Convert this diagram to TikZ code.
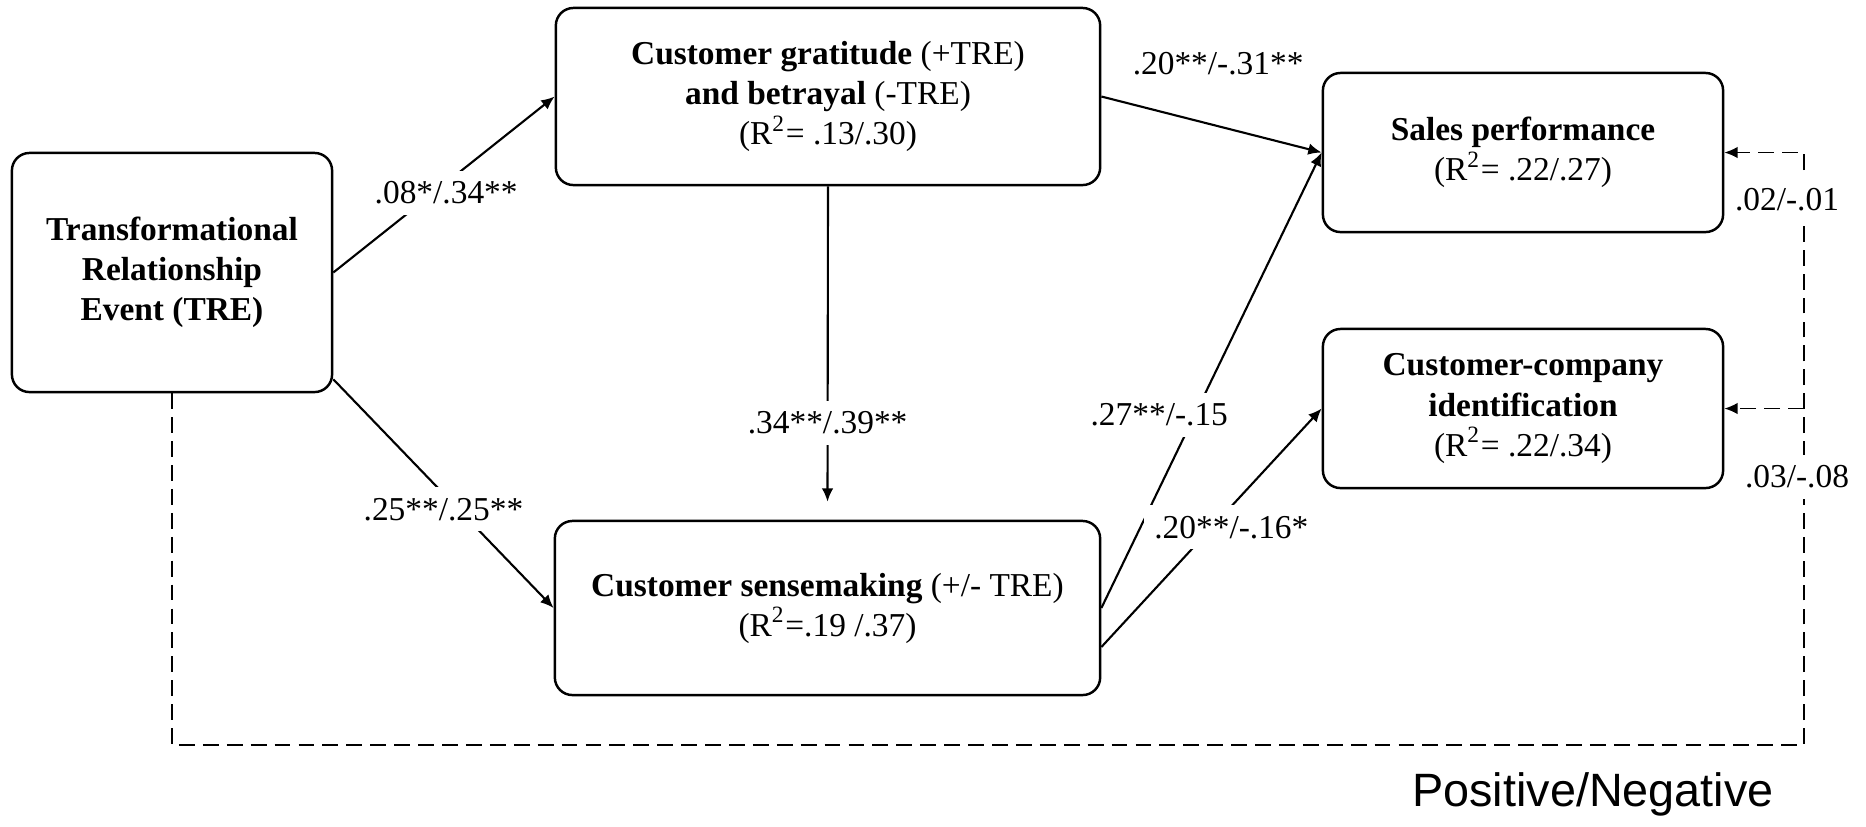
\documentclass[tikz,border=0pt]{standalone}
\usepackage{fontspec}
\setmainfont{Liberation Serif}
\newfontfamily\legendfont{Liberation Sans}
\usetikzlibrary{arrows.meta,positioning,calc}

\begin{document}
\begin{tikzpicture}[x=0.01cm, y=-0.01cm, >=Latex,
    every node/.style={font=\fontsize{9.5pt}{11.4pt}\selectfont},
    box/.style={draw, line width=0.7pt, rounded corners=5pt, align=center, inner sep=2pt},
    lbl/.style={fill=white, inner sep=3pt},
    arr/.style={-{Latex[length=3.8pt,width=3.3pt]}, line width=0.6pt},
    darr/.style={arr, line width=0.45pt, dash pattern=on 4.5pt off 2.3pt}]
    \useasboundingbox (0,0) rectangle (1866,826);
    \node[box, minimum width=3.2cm, minimum height=2.39cm] (tre) at (172,272.5)
        {\textbf{Transformational}\\\textbf{Relationship}\\\textbf{Event (TRE)}};
    \node[box, minimum width=5.44cm, minimum height=1.77cm] (grat) at (828,96.5)
        {\textbf{Customer gratitude} (+TRE)\\\textbf{and betrayal} (-TRE)\\(R\textsuperscript{2}= .13/.30)};
    \node[box, minimum width=5.45cm, minimum height=1.74cm] (sense) at (827.5,608)
        {\textbf{Customer sensemaking} (+/- TRE)\\(R\textsuperscript{2}=.19 /.37)};
    \node[box, minimum width=4cm, minimum height=1.59cm] (sales) at (1523,152.5)
        {\textbf{Sales performance}\\(R\textsuperscript{2}= .22/.27)};
    \node[box, minimum width=4cm, minimum height=1.59cm] (cci) at (1523,408.5)
        {\textbf{Customer-company}\\\textbf{identification}\\(R\textsuperscript{2}= .22/.34)};
    \coordinate (trelow) at ($(tre.south east)+(0,-14)$);
    \coordinate (senselow) at ($(sense.east)+(0,39)$);
    \coordinate (senseabove) at ($(sense.north)+(0,-18)$);
    \coordinate (dcorner) at (1804,745);
    \coordinate (dtop) at (1804,152.5);
    \draw[arr] (tre.east) -- (grat.west) node[lbl, pos=0.51, yshift=-0.1cm] (l1) {.08*/.34**};
    \draw[arr] (trelow) -- (sense.west) node[lbl, pos=0.5, yshift=-0.155cm] (l2) {.25**/.25**};
    \draw[arr] (grat.south) -- (senseabove) node[lbl, pos=0.75] (l3) {.34**/.39**};
    \draw[arr] (grat.east) -- (sales.west) node[pos=0.53, yshift=0.63cm] (l4) {.20**/-.31**};
    \draw[arr] (sense.east) -- (sales.west) node[lbl, pos=0.424, xshift=-0.355cm] (l5) {.27**/-.15};
    \draw[arr] (senselow) -- (cci.west) node[lbl, pos=0.59, yshift=-0.21cm] (l6) {.20**/-.16*};
    \draw[darr] (tre.south) |- (dcorner) -- (dtop) -- (sales.east);
    \draw[darr] (cci.east -| dtop) -- (cci.east);
    \node[lbl] (l7) at (1787,200) {.02/-.01};
    \node[lbl] (l8) at (1797,477) {.03/-.08};
    \node[font=\legendfont\fontsize{13.3pt}{16pt}\selectfont] (legend) at (1593,794) {Positive/Negative};
\end{tikzpicture}
\end{document}
